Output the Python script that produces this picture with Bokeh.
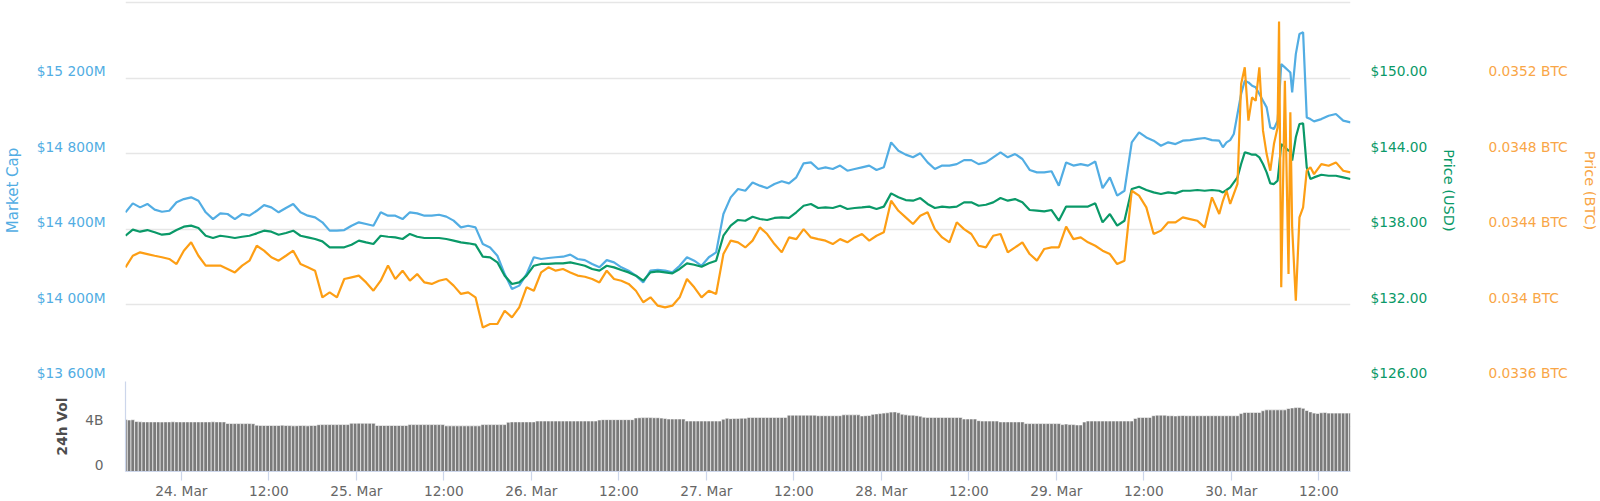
from bokeh.plotting import figure
from bokeh.models import Range1d, LinearAxis, FixedTicker, ColumnDataSource
from bokeh.layouts import column
from bokeh.embed import file_html
from bokeh.resources import INLINE

# ---------------- data ----------------
# sample times: hours since 2019-03-23 16:20 (minutes since 24 Mar 00:00 = 60*h - 460)
hours = list(range(0, 151)) + [
    150.5, 151, 151.5, 152, 152.5, 153, 153.5, 154, 154.5, 155, 155.5, 156, 156.5, 157, 157.5, 158,
    158.2, 158.5, 159, 159.5, 159.75, 160, 160.5, 161, 161.5, 162, 162.5, 163,
    164, 165, 166, 167, 168]

market_cap_musd = [
    14490, 14537, 14516, 14534, 14504, 14493, 14498, 14543, 14560, 14569, 14551, 14490, 14454, 14484, 14481,
    14454, 14481, 14472, 14498, 14528, 14516, 14490, 14513, 14534, 14490, 14472, 14463, 14437, 14393,
    14393, 14396, 14419, 14437, 14428, 14419, 14490, 14472, 14472, 14454, 14490, 14484, 14472, 14472, 14477,
    14467, 14446, 14410, 14419, 14410, 14322, 14304, 14260, 14163, 14084, 14102, 14163, 14252,
    14243, 14248, 14252, 14255, 14266, 14243, 14237, 14216, 14199, 14237, 14225, 14199, 14181, 14155, 14119,
    14181, 14185, 14181, 14172, 14207, 14252, 14234, 14207, 14252, 14278, 14481, 14569, 14613,
    14604, 14648, 14631, 14618, 14640, 14654, 14643, 14675, 14749, 14754, 14719, 14728, 14719, 14737, 14710,
    14719, 14728, 14737, 14714, 14728, 14860, 14816, 14795, 14781, 14802, 14754, 14719,
    14737, 14737, 14745, 14766, 14766, 14745, 14754, 14781, 14807, 14781, 14798, 14772, 14714, 14701, 14701,
    14707, 14631, 14754, 14737, 14745, 14737, 14759, 14618, 14675, 14578, 14604, 14860, 14913,
    14886, 14869, 14842, 14860, 14851, 14869, 14872, 14878, 14883, 14872, 14869,
    14834, 14860, 14872, 14904, 15010, 15116, 15186, 15177, 15160, 15151, 15116, 15080, 15045, 14939, 14931, 14975,
    15080, 15274, 15257, 15239, 15230, 15125, 15327, 15433, 15442, 14992, 14983, 14971,
    14983, 15001, 15010, 14975, 14966]

price_usd = [
    137.49, 137.97, 137.81, 137.94, 137.76, 137.57, 137.63, 137.94, 138.21, 138.29, 138.10, 137.49, 137.31, 137.49, 137.41,
    137.31, 137.41, 137.49, 137.68, 137.89, 137.81, 137.57, 137.71, 137.89, 137.49, 137.36, 137.23, 137.04, 136.57,
    136.57, 136.57, 136.78, 137.10, 136.96, 136.83, 137.49, 137.41, 137.36, 137.23, 137.63, 137.41, 137.31, 137.31, 137.31,
    137.23, 137.10, 136.96, 136.89, 136.78, 135.83, 135.77, 135.38, 134.32, 133.66, 133.79, 134.32, 135.11,
    135.25, 135.25, 135.30, 135.30, 135.38, 135.25, 135.11, 134.85, 134.72, 135.11, 134.98, 134.77, 134.58, 134.32, 133.92,
    134.58, 134.66, 134.58, 134.50, 134.85, 135.30, 135.19, 135.03, 135.30, 135.51, 137.49, 138.29, 138.74,
    138.68, 139.00, 138.82, 138.74, 138.90, 138.95, 138.90, 139.35, 139.87, 140.01, 139.69, 139.74, 139.69, 139.87, 139.61,
    139.69, 139.74, 139.80, 139.61, 139.80, 140.85, 140.54, 140.32, 140.27, 140.48, 140.01, 139.69,
    139.80, 139.74, 139.80, 140.14, 140.14, 139.87, 139.95, 140.14, 140.48, 140.27, 140.40, 140.14, 139.53, 139.48, 139.42,
    139.53, 138.68, 139.80, 139.80, 139.80, 139.80, 140.06, 138.55, 139.21, 138.29, 138.68, 141.20, 141.38,
    141.12, 140.93, 140.80, 140.93, 140.85, 141.06, 141.06, 141.12, 141.06, 141.12, 141.06,
    140.93, 141.12, 141.33, 141.73, 142.12, 143.18, 144.11, 144.03, 143.92, 143.92, 143.71, 143.18, 142.52, 141.65, 141.59, 141.86,
    142.92, 144.77, 144.50, 144.24, 144.24, 143.45, 145.30, 146.36, 146.41, 142.92, 141.99, 142.12,
    142.33, 142.25, 142.25, 142.12, 141.99]

price_btc = [
    0.034199, 0.034260, 0.034278, 0.034269, 0.034260, 0.034252, 0.034243, 0.034216, 0.034287, 0.034331, 0.034260,
    0.034208, 0.034208, 0.034208, 0.034190, 0.034172, 0.034208, 0.034234, 0.034313, 0.034287, 0.034252, 0.034234,
    0.034260, 0.034287, 0.034216, 0.034199, 0.034181, 0.034040, 0.034066,
    0.034040, 0.034137, 0.034146, 0.034155, 0.034119, 0.034075, 0.034128, 0.034208, 0.034137, 0.034181, 0.034128,
    0.034163, 0.034119, 0.034111, 0.034128, 0.034137, 0.034102, 0.034058, 0.034066, 0.034040, 0.033881, 0.033899,
    0.033899, 0.033969, 0.033934, 0.033987, 0.034093, 0.034075,
    0.034172, 0.034199, 0.034181, 0.034190, 0.034172, 0.034155, 0.034149, 0.034137, 0.034119, 0.034181, 0.034137,
    0.034128, 0.034111, 0.034075, 0.034014, 0.034040, 0.033996, 0.033987, 0.033996, 0.034040, 0.034137, 0.034093,
    0.034040, 0.034075, 0.034058, 0.034269, 0.034340, 0.034331,
    0.034304, 0.034340, 0.034410, 0.034375, 0.034322, 0.034278, 0.034357, 0.034348, 0.034401, 0.034357, 0.034348,
    0.034340, 0.034322, 0.034348, 0.034331, 0.034357, 0.034375, 0.034340, 0.034366, 0.034384, 0.034551, 0.034498,
    0.034463, 0.034428, 0.034472, 0.034490, 0.034401,
    0.034357, 0.034331, 0.034437, 0.034401, 0.034375, 0.034313, 0.034304, 0.034366, 0.034375, 0.034278, 0.034304,
    0.034331, 0.034269, 0.034234, 0.034296, 0.034304, 0.034304, 0.034414, 0.034348, 0.034357, 0.034331, 0.034313,
    0.034287, 0.034269, 0.034216, 0.034234, 0.034604, 0.034578,
    0.034516, 0.034375, 0.034393, 0.034437, 0.034437, 0.034463, 0.034454, 0.034445, 0.034410, 0.034569, 0.034481,
    0.034551, 0.034604, 0.034534, 0.034587, 0.034640, 0.035169, 0.035257, 0.034975, 0.035098, 0.035080, 0.035257,
    0.034922, 0.034798, 0.034710, 0.034851, 0.034939,
    0.035500, 0.034093, 0.035186, 0.034163, 0.035019, 0.034410, 0.034022, 0.034463, 0.034516, 0.034710, 0.034728, 0.034692,
    0.034745, 0.034736, 0.034754, 0.034710, 0.034701]

# 24h volume, billions USD, one bar every 30 minutes from 2019-03-23 16:20
volume_busd = [
    4.62, 4.58, 4.60,
    4.45, 4.42, 4.41, 4.41, 4.41, 4.41, 4.41, 4.40, 4.41, 4.41, 4.42, 4.41, 4.41, 4.41, 4.41, 4.41, 4.41, 4.41, 4.41,
    4.41, 4.41, 4.42, 4.41, 4.41, 4.41,
    4.27, 4.27, 4.26, 4.26, 4.26, 4.26, 4.26, 4.25,
    4.12, 4.10, 4.09, 4.09, 4.09, 4.09, 4.09, 4.12, 4.09, 4.08, 4.06, 4.07, 4.09, 4.08, 4.06, 4.09, 4.09,
    4.16, 4.17, 4.17, 4.17, 4.17, 4.17, 4.17, 4.18, 4.17,
    4.29, 4.29, 4.30, 4.29, 4.29, 4.29, 4.29,
    4.09, 4.09, 4.09, 4.09, 4.09, 4.09, 4.09, 4.09, 4.09,
    4.17, 4.17, 4.17, 4.17, 4.17, 4.17, 4.17, 4.17, 4.17, 4.17,
    4.06, 4.06, 4.06, 4.06, 4.06, 4.06, 4.06, 4.06, 4.06, 4.06,
    4.17, 4.17, 4.17, 4.17, 4.17, 4.17, 4.17,
    4.38, 4.41, 4.41, 4.41, 4.41, 4.41, 4.41, 4.41,
    4.49, 4.49, 4.49, 4.49, 4.49, 4.49, 4.49, 4.49, 4.49, 4.49, 4.49, 4.49, 4.49, 4.49, 4.49, 4.49, 4.49,
    4.58, 4.61, 4.61, 4.61, 4.61, 4.61, 4.61, 4.61, 4.61, 4.61,
    4.76, 4.78, 4.79, 4.79, 4.79, 4.78, 4.78, 4.75, 4.72,
    4.67, 4.67, 4.67, 4.67, 4.67,
    4.49, 4.49, 4.49, 4.49, 4.49, 4.49, 4.49, 4.49, 4.49, 4.49,
    4.65, 4.74, 4.70, 4.72, 4.72, 4.74, 4.74,
    4.81, 4.81, 4.81, 4.81, 4.81, 4.81, 4.81, 4.81, 4.81, 4.81, 4.81,
    5.01, 5.01, 5.01, 5.01, 5.01, 5.01, 5.01, 5.01,
    4.96, 4.96, 4.96, 4.96, 4.96, 4.96, 4.96,
    5.04, 5.04, 5.04, 5.04, 5.04,
    4.94, 4.96, 4.98, 5.08, 5.12, 5.15,
    5.19, 5.22, 5.28, 5.30,
    5.22, 5.10, 5.04, 5.01, 5.01, 4.96, 4.92,
    4.83, 4.81, 4.81, 4.81, 4.81, 4.81, 4.81, 4.81, 4.81, 4.81, 4.81,
    4.67, 4.67, 4.67, 4.67,
    4.52, 4.49, 4.49, 4.49, 4.49, 4.49,
    4.41, 4.41, 4.41, 4.41, 4.41, 4.41, 4.41,
    4.26, 4.26, 4.26, 4.26, 4.26, 4.26, 4.26, 4.26, 4.26, 4.26,
    4.17, 4.22, 4.17, 4.17, 4.14, 4.14,
    4.40, 4.49, 4.49, 4.49, 4.49, 4.49, 4.49, 4.49, 4.49, 4.49, 4.49, 4.49, 4.49, 4.49,
    4.72, 4.81, 4.81, 4.81, 4.81,
    4.96, 5.01, 5.01, 5.01,
    4.96, 4.96, 4.94, 4.96, 4.98, 4.96, 4.96, 4.96, 4.96, 4.96, 4.96, 4.96, 4.96, 4.96, 4.96, 4.96, 4.96, 4.96, 4.96, 4.96,
    5.15, 5.25, 5.25, 5.25, 5.25, 5.25,
    5.40, 5.48, 5.48, 5.48, 5.48, 5.48, 5.48,
    5.60, 5.65, 5.68, 5.70, 5.62,
    5.42, 5.30,
    5.19, 5.16, 5.22, 5.25, 5.19, 5.19, 5.19, 5.19, 5.19, 5.19, 5.19]

# axis ticks / labels
mc_ticks = [13600, 14000, 14400, 14800, 15200]
mc_labels = ["$13 600M", "$14 000M", "$14 400M", "$14 800M", "$15 200M"]
usd_ticks = [126, 132, 138, 144, 150]
usd_labels = ["$126.00", "$132.00", "$138.00", "$144.00", "$150.00"]
btc_ticks = [0.0336, 0.0340, 0.0344, 0.0348, 0.0352]
btc_labels = ["0.0336 BTC", "0.034 BTC", "0.0344 BTC", "0.0348 BTC", "0.0352 BTC"]
vol_ticks = [0, 4]
vol_labels = ["0", "4B"]
date_ticks_min = [0, 720, 1440, 2160, 2880, 3600, 4320, 5040, 5760, 6480, 7200, 7920, 8640, 9360]
date_labels = ["24. Mar", "12:00", "25. Mar", "12:00", "26. Mar", "12:00", "27. Mar", "12:00",
               "28. Mar", "12:00", "29. Mar", "12:00", "30. Mar", "12:00"]

# ---------------- styling ----------------
MC_COL = "#52ade3"
USD_COL = "#0a9968"
BTC_COL = "#fd9e14"
BTC_TXT = "#f9a646"
GRID = "#e6e6e6"
AXIS = "#ccd6eb"
FONT = "DejaVu Sans"
FS = "13.75px"

W = 1600
H_MAIN = 380
H_VOL = 121
B_LEFT, B_RIGHT = 125, 247
PX_PER_STEP = 75.6        # pixels between two main grid lines
LABEL_LIFT = 7            # labels sit this many px above their grid line
VOL_FRAME = 92

n = min(len(hours), len(market_cap_musd), len(price_usd), len(price_btc))
x_min = [60 * h - 460 for h in hours[:n]]
x_range = Range1d(-460, 9620)

mc_step, usd_step, btc_step = 400.0, 6.0, 0.0004
mc_top = 13600 + H_MAIN * mc_step / PX_PER_STEP
usd_top = 126 + H_MAIN * usd_step / PX_PER_STEP
btc_top = 0.0336 + H_MAIN * btc_step / PX_PER_STEP


def lifted(ticks, lift_value, labels, nd):
    pos = [round(t + lift_value, nd) for t in ticks]
    return pos, {p_: l for p_, l in zip(pos, labels)}


def style_value_axis(ax, color, title, standoff, title_standoff, title_size="15px", bold=False, title_color=None):
    ax.axis_line_color = None
    ax.major_tick_line_color = None
    ax.minor_tick_line_color = None
    ax.major_tick_out = 0
    ax.major_tick_in = 0
    ax.minor_tick_out = 0
    ax.minor_tick_in = 0
    ax.major_label_text_color = color
    ax.major_label_text_font = FONT
    ax.major_label_text_font_size = FS
    ax.major_label_standoff = standoff
    ax.axis_label = title
    ax.axis_label_text_color = title_color or color
    ax.axis_label_text_font = FONT
    ax.axis_label_text_font_size = title_size
    ax.axis_label_text_font_style = "bold" if bold else "normal"
    ax.axis_label_standoff = title_standoff


# ---------------- main panel ----------------
p = figure(width=W, height=H_MAIN, x_range=x_range, y_range=Range1d(13600, mc_top),
           output_backend="svg", toolbar_location=None, x_axis_location=None,
           min_border_left=B_LEFT, min_border_right=B_RIGHT, min_border_top=0, min_border_bottom=0)
p.outline_line_color = None
p.background_fill_color = "white"
p.border_fill_color = "white"
p.xgrid.visible = False
p.ygrid.ticker = FixedTicker(ticks=mc_ticks + [15600])
p.ygrid.grid_line_color = GRID
p.ygrid.grid_line_width = 1.5
p.extra_y_ranges = {"usd": Range1d(126, usd_top), "btc": Range1d(0.0336, btc_top)}

mc_pos, mc_over = lifted(mc_ticks, LABEL_LIFT * mc_step / PX_PER_STEP, mc_labels, 3)
ax = p.yaxis[0]
ax.ticker = FixedTicker(ticks=mc_pos)
ax.major_label_overrides = mc_over
style_value_axis(ax, MC_COL, "Market Cap", 20, 12)

usd_pos, usd_over = lifted(usd_ticks, LABEL_LIFT * usd_step / PX_PER_STEP, usd_labels, 4)
usd_ax = LinearAxis(y_range_name="usd", ticker=FixedTicker(ticks=usd_pos), major_label_overrides=usd_over)
style_value_axis(usd_ax, USD_COL, "Price (USD)", 20, 11, title_size="14.5px")
p.add_layout(usd_ax, "right")

btc_pos, btc_over = lifted(btc_ticks, LABEL_LIFT * btc_step / PX_PER_STEP, btc_labels, 8)
btc_ax = LinearAxis(y_range_name="btc", ticker=FixedTicker(ticks=btc_pos), major_label_overrides=btc_over)
style_value_axis(btc_ax, BTC_TXT, "Price (BTC)", 28, 11, title_size="14.5px")
p.add_layout(btc_ax, "right")

src = ColumnDataSource(dict(x=x_min, mc=market_cap_musd[:n], usd=price_usd[:n], btc=price_btc[:n]))
p.line("x", "mc", source=src, line_color=MC_COL, line_width=2.2)
p.line("x", "usd", source=src, y_range_name="usd", line_color=USD_COL, line_width=2.2)
p.line("x", "btc", source=src, y_range_name="btc", line_color=BTC_COL, line_width=2.2)

# ---------------- volume panel ----------------
v = figure(width=W, height=H_VOL, x_range=x_range, y_range=Range1d(0, 8),
           output_backend="svg", toolbar_location=None,
           min_border_left=B_LEFT, min_border_right=B_RIGHT, min_border_top=1,
           min_border_bottom=H_VOL - 1 - VOL_FRAME)
v.outline_line_color = None
v.background_fill_color = "white"
v.border_fill_color = "white"
v.xgrid.visible = False
v.ygrid.ticker = FixedTicker(ticks=[0, 4, 8])
v.ygrid.grid_line_color = GRID
v.ygrid.grid_line_width = 1.2

vol_x = [-460 + 30 * j for j in range(len(volume_busd))]
vsrc = ColumnDataSource(dict(x=vol_x, top=volume_busd))
v.vbar(x="x", top="top", bottom=0, width=30, source=vsrc,
       fill_color="#7a7a7a", line_color="white", line_width=0.6)

vol_pos, vol_over = lifted(vol_ticks, LABEL_LIFT * 8.0 / VOL_FRAME, vol_labels, 4)
va = v.yaxis[0]
va.ticker = FixedTicker(ticks=vol_pos)
va.major_label_overrides = vol_over
style_value_axis(va, "#666666", "24h Vol", 22, 12, title_size="13.75px", bold=True, title_color="#4d4d4d")
va.axis_line_color = AXIS
va.axis_line_width = 1.2
va.bounds = (0, 8)

xa = v.xaxis[0]
xa.ticker = FixedTicker(ticks=date_ticks_min)
xa.major_label_overrides = {t: l for t, l in zip(date_ticks_min, date_labels)}
xa.axis_line_color = AXIS
xa.axis_line_width = 1.2
xa.major_tick_line_color = AXIS
xa.major_tick_line_width = 1.2
xa.major_tick_out = 9
xa.major_tick_in = 0
xa.minor_tick_line_color = None
xa.minor_tick_out = 0
xa.minor_tick_in = 0
xa.major_label_standoff = 2
xa.major_label_text_color = "#666666"
xa.major_label_text_font = FONT
xa.major_label_text_font_size = FS

layout = column(p, v, spacing=0)
open("out.html", "w").write(file_html(layout, INLINE))
